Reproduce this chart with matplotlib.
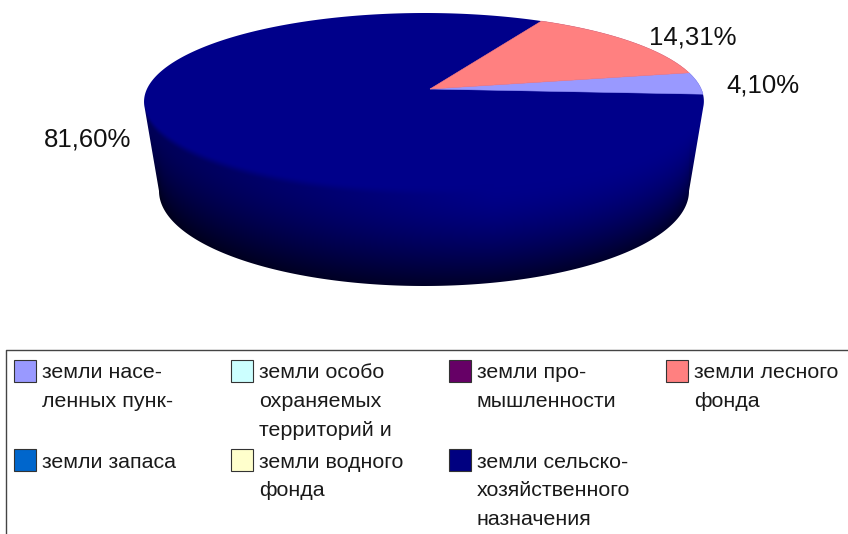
import numpy as np
import matplotlib
matplotlib.use("Agg")
import matplotlib.pyplot as plt
from matplotlib.patches import Polygon, Rectangle

plt.rcParams['font.family'] = ['Liberation Sans', 'DejaVu Sans']

categories = ['земли насе-\nленных пунк-', 'земли особо\nохраняемых\nтерриторий и',
              'земли про-\nмышленности', 'земли лесного\nфонда',
              'земли запаса', 'земли водного\nфонда',
              'земли сельско-\nхозяйственного\nназначения']
shares = [4.10, 0, 0, 14.31, 0, 0, 81.60]
share_labels = ['4,10%', '', '', '14,31%', '', '', '81,60%']
colors = ['#9999FF', '#CCFFFF', '#660066', '#FF8080', '#0066CC', '#FFFFCC', '#000080']

W, H = 848, 534
fig = plt.figure(figsize=(W / 100, H / 100), dpi=100)
ax = fig.add_axes([0, 0, 1, 1])
ax.set_xlim(0, W)
ax.set_ylim(H, 0)
ax.axis('off')


# perspective view of the pie top, apex stays at (430, 89)
def top_face(deg):
    t = np.radians(deg)
    u, v = np.cos(t), np.sin(t)
    w = 1 + 0.141 * v + 0.0214 * u
    return 430 + 277 * u / w, 89 - 86.7 * v / w


def bottom_edge(deg):
    t = np.radians(deg)
    return 424 + 265 * np.cos(t), 191 - 95 * np.sin(t)


# pie body: shaded image clipped to the whole outline
xt, yt = top_face(np.linspace(192, 348, 200))
xb, yb = bottom_edge(np.linspace(180, 360, 200))
xo, yo = top_face(np.linspace(-12, 192, 200))
outline = Polygon(np.r_[np.c_[xo, yo], np.c_[xb, yb]], closed=True, fc='none', ec='none')
ax.add_patch(outline)

gx, gy = np.meshgrid(np.arange(W), np.arange(H))
upper = np.interp(gx, xt, yt)
lower = np.interp(gx, xb, yb)
d = gy - upper
frac = np.clip(d / np.maximum(lower - upper, 1), 0, 1)
across = np.clip((gx - 144) / 560, 0, 1)
base = 88 + 50 * np.minimum(across * 1.6, 1)
wall = base * (1 - 0.7 * frac ** 1.6)
ramp = np.clip((d + 4) / 10, 0, 1)
ramp = ramp * ramp * (3 - 2 * ramp)
blue = 138 + (wall - 138) * ramp
rgb = np.dstack([np.zeros_like(blue), np.zeros_like(blue), blue / 255])
img = ax.imshow(rgb, extent=(0, W, H, 0), aspect='auto', interpolation='bilinear', zorder=1)
img.set_clip_path(outline)
ax.set_xlim(0, W)
ax.set_ylim(H, 0)

# top of the pie
start = -3.45
total = sum(shares)
for share, col in zip(shares, colors):
    if share == 0:
        continue
    end = start + 360 * share / total
    # the navy slice is already painted by the shaded body
    if col != '#000080':
        xa, ya = top_face(np.linspace(start, end, 200))
        pts = np.r_[[[430, 89]], np.c_[xa, ya]]
        ax.add_patch(Polygon(pts, closed=True, fc=col, ec=col, lw=0.4, zorder=2))
    start = end

# share labels
label_pos = {0: (763, 85), 3: (693, 38), 6: (88, 140)}
for i, pos in label_pos.items():
    ax.text(pos[0], pos[1], share_labels[i], fontsize=18.5, color='#111111',
            ha='center', va='center', zorder=3)

# legend box, open on the right and at the bottom
ax.plot([848, 6, 6], [350, 350, 534], color='#444444', lw=1.0, zorder=3, clip_on=False)
swatch_x = [14, 231, 449, 666]
swatch_y = [360, 449]
for i, (name, col) in enumerate(zip(categories, colors)):
    sx = swatch_x[i % 4]
    sy = swatch_y[i // 4]
    ax.add_patch(Rectangle((sx, sy), 22, 22, fc=col, ec='#333333', lw=0.8, zorder=3))
    for j, line in enumerate(name.split('\n')):
        ax.text(sx + 28, sy + 13 + j * 28.8, line, fontsize=15.4, color='#1a1a1a',
                ha='left', va='center', zorder=3)

fig.savefig('out.png', dpi=100)
